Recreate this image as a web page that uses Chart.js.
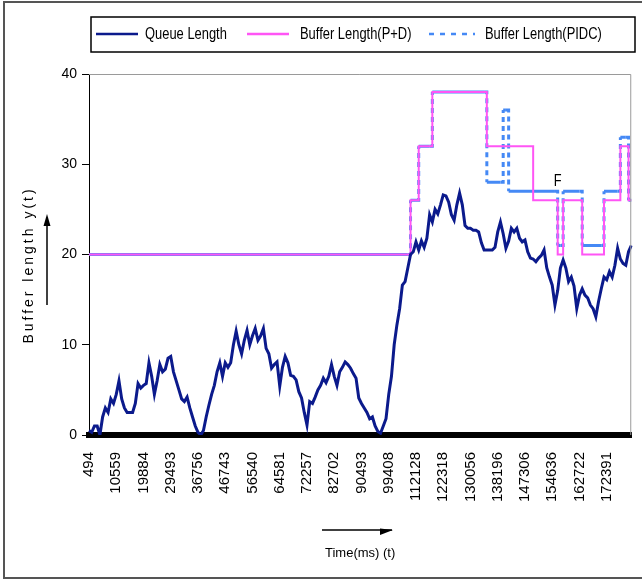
<!DOCTYPE html>
<html>
<head>
<meta charset="utf-8">
<title>Queue and buffer length</title>
<script src="https://cdn.jsdelivr.net/npm/chart.js@4.4.1/dist/chart.umd.min.js"></script>
<style>
    html, body { margin: 0; padding: 0; background: #fff; }
    #wrap { width: 642px; height: 580px; }
</style>
</head>
<body>
<div id="wrap"><canvas id="bufferChart" width="642" height="580"></canvas></div>
<script>
// x axis: one sample per category, a time label on every 10th sample
const timeTicks = [494, 10559, 19884, 29493, 36756, 46743, 56540, 64581, 72257, 82702,
    90493, 99408, 112128, 122318, 130056, 138196, 147306, 154636, 162722, 172391];

const queueLength = [
    0.5, 0.3, 1, 1, 0, 2, 3, 2.5, 4, 3.5,
    4.5, 6, 4, 3, 2.5, 2.5, 2.5, 3.5, 5.7, 5.2,
    5.5, 5.7, 8, 6.5, 4.5, 6, 7.8, 7, 7.3, 8.5,
    8.7, 7, 6, 5, 4, 3.7, 4.2, 3, 2, 1,
    0.3, 0, 0.5, 2, 3.3, 4.5, 5.5, 7, 8, 6.5,
    8, 7.5, 8, 10, 11.5, 10, 9, 10.5, 11.6, 10,
    11, 11.8, 10.5, 11, 11.8, 9.6, 9, 7.4, 7.8, 8.1,
    5.4, 7.5, 8.7, 8, 6.6, 6.5, 6.1, 4.8, 4.1, 2.5,
    1.1, 3.7, 3.5, 4.2, 5, 5.5, 6.3, 5.8, 6.5, 7.8,
    6.5, 5.5, 7, 7.5, 8.1, 7.8, 7.4, 6.8, 6.3, 4.1,
    3.5, 3, 2.5, 1.8, 2, 1, 0.4, 0.2, 1, 1.8,
    4.5, 6.5, 10, 12.2, 14, 16.6, 17, 18.5, 20, 20.3,
    21.4, 20.5, 21.5, 20.8, 21.8, 24.4, 23.6, 25, 24.5, 25.5,
    26.6, 26.5, 25.8, 24.4, 23.8, 25.5, 26.8, 25.5, 23.2, 22.9,
    22.9, 22.7, 22.7, 22.5, 21.3, 20.5, 20.5, 20.5, 20.5, 20.8,
    22.5, 23.6, 22.3, 20.7, 21.5, 22.9, 22.5, 22.9, 21.8, 21.4,
    21.6, 20.3, 19.6, 19.5, 19.2, 19.6, 19.9, 20.5, 18.5, 17.5,
    16.6, 14.4, 16, 18.5, 19.4, 18.5, 17, 17.5, 16.5, 14,
    15.5, 16.2, 15.5, 15.2, 14.4, 14, 13.1, 14.8, 16.2, 17.5,
    17.2, 18.1, 17.5, 18.8, 20.7, 19.5, 19, 18.8, 20.3, 21
];

// buffer lengths are step functions: sample index where a level starts, and the level
const pdStart = [0, 118, 121, 126, 146, 163, 172, 174, 181, 189, 195, 198];
const pdLevel = [20, 26, 32, 38, 32, 26, 20, 26, 20, 26, 32, 26];
const pidcStart = [0, 118, 121, 126, 146, 152, 154, 172, 174, 181, 189, 195, 198];
const pidcLevel = [20, 26, 32, 38, 28, 36, 27, 21, 27, 21, 27, 33, 26];

const seriesNames = ['Queue Length', 'Buffer Length(P+D)', 'Buffer Length(PIDC)'];

// the "F" label sits next to the PIDC drop
const noteF = { index: 172, value: 28.1, text: 'F' };

const plain = "'Liberation Sans', Arial, sans-serif";

function expandSteps(starts, levels, n) {
    const out = [];
    let k = 0;
    for (let i = 0; i < n; i++) {
        while (k + 1 < starts.length && starts[k + 1] <= i) k++;
        out.push(levels[k]);
    }
    return out;
}

// squeezed text, the original uses a narrow face
function narrowText(c, text, x, y, squeeze) {
    c.save();
    c.translate(x, y);
    c.scale(squeeze, 1);
    c.fillText(text, 0, 0);
    c.restore();
}

const decorations = {
    id: 'decorations',
    beforeDraw(chart) {
        const c = chart.ctx;
        c.save();
        c.fillStyle = '#fff';
        c.fillRect(0, 0, chart.width, chart.height);
        c.strokeStyle = '#555';
        c.lineWidth = 2;
        c.strokeRect(4, 2, chart.width + 4, chart.height - 4);
        c.restore();
    },
    afterDraw(chart) {
        const c = chart.ctx;
        const area = chart.chartArea;
        c.save();

        // grey frame on top and right of the plot
        c.strokeStyle = '#9a9a9a';
        c.lineWidth = 1;
        c.beginPath();
        c.moveTo(area.left, area.top + 0.5);
        c.lineTo(area.right - 0.5, area.top + 0.5);
        c.lineTo(area.right - 0.5, area.bottom);
        c.stroke();

        // legend box
        c.strokeStyle = '#000';
        c.lineWidth = 1.5;
        c.strokeRect(91, 17, 544, 35);
        const itemX = [96, 247, 429];
        const textX = [145, 300, 485];
        c.font = '17px ' + plain;
        c.textBaseline = 'middle';
        c.fillStyle = '#000';
        chart.data.datasets.forEach((ds, i) => {
            c.strokeStyle = ds.borderColor;
            c.lineWidth = 2.5;
            c.setLineDash(i === 2 ? [5, 6] : []);
            c.beginPath();
            c.moveTo(itemX[i], 34);
            c.lineTo(itemX[i] + (i === 2 ? 46 : 42), 34);
            c.stroke();
            narrowText(c, ds.label, textX[i], 34, 0.76);
        });
        c.setLineDash([]);

        // y axis title with its arrow
        c.save();
        c.translate(29, 265);
        c.rotate(-Math.PI / 2);
        c.font = '14px ' + plain;
        c.letterSpacing = '3px';
        c.textAlign = 'center';
        c.fillText('Buffer length y(t)', 0, 0);
        c.restore();
        c.strokeStyle = '#000';
        c.lineWidth = 1.5;
        c.beginPath();
        c.moveTo(47, 305);
        c.lineTo(47, 222);
        c.stroke();
        c.beginPath();
        c.moveTo(47, 214);
        c.lineTo(43.5, 226);
        c.lineTo(50.5, 226);
        c.closePath();
        c.fill();

        // arrow over the time axis title
        c.beginPath();
        c.moveTo(322, 530);
        c.lineTo(392, 530);
        c.stroke();
        c.beginPath();
        c.moveTo(393, 530);
        c.lineTo(380, 528.5);
        c.lineTo(380, 535);
        c.closePath();
        c.fill();

        // "F" note
        c.font = '16px ' + plain;
        c.textAlign = 'center';
        narrowText(c, noteF.text,
            chart.scales.x.getPixelForValue(noteF.index),
            chart.scales.y.getPixelForValue(noteF.value), 0.8);
        c.restore();
    }
};

const n = queueLength.length;

new Chart(document.getElementById('bufferChart'), {
    type: 'line',
    data: {
        labels: queueLength.map((_, i) => i),
        datasets: [
            {
                label: seriesNames[0],
                data: queueLength,
                borderColor: '#0b1a8c',
                borderWidth: 3,
                order: 0
            },
            {
                label: seriesNames[1],
                data: expandSteps(pdStart, pdLevel, n),
                borderColor: '#ff55f5',
                borderWidth: 2,
                stepped: true,
                order: 1
            },
            {
                label: seriesNames[2],
                data: expandSteps(pidcStart, pidcLevel, n),
                borderColor: '#4589f5',
                borderWidth: 3,
                stepped: true,
                order: 2,
                segment: {
                    borderDash: ctx => ctx.p0.parsed.y !== ctx.p1.parsed.y ? [5, 4] : []
                }
            }
        ]
    },
    options: {
        responsive: false,
        animation: false,
        devicePixelRatio: 1,
        elements: {
            point: { radius: 0 },
            line: { tension: 0 }
        },
        layout: {
            autoPadding: false,
            padding: { top: 74, right: 6, bottom: 8, left: 8 }
        },
        plugins: {
            legend: { display: false },
            tooltip: { enabled: false }
        },
        scales: {
            x: {
                type: 'category',
                grid: { display: false, drawTicks: false },
                border: { color: '#000', width: 6 },
                ticks: {
                    autoSkip: false,
                    minRotation: 90,
                    maxRotation: 90,
                    padding: 17,
                    color: '#000',
                    font: { family: plain, size: 15 },
                    callback: (value, i) => i % 10 === 0 ? String(timeTicks[i / 10]) : null
                },
                title: {
                    display: true,
                    text: 'Time(ms) (t)',
                    color: '#000',
                    font: { family: plain, size: 13 },
                    padding: { top: 0, bottom: 11 }
                },
                afterFit: scale => { scale.height = 137; }
            },
            y: {
                min: 0,
                max: 40,
                ticks: {
                    stepSize: 10,
                    padding: 5,
                    color: '#000',
                    font: { family: plain, size: 14 }
                },
                grid: { drawOnChartArea: false, color: '#000', tickLength: 7 },
                border: { color: '#000', width: 1 },
                afterFit: scale => { scale.width = 81; }
            }
        }
    },
    plugins: [decorations]
});
</script>
</body>
</html>
